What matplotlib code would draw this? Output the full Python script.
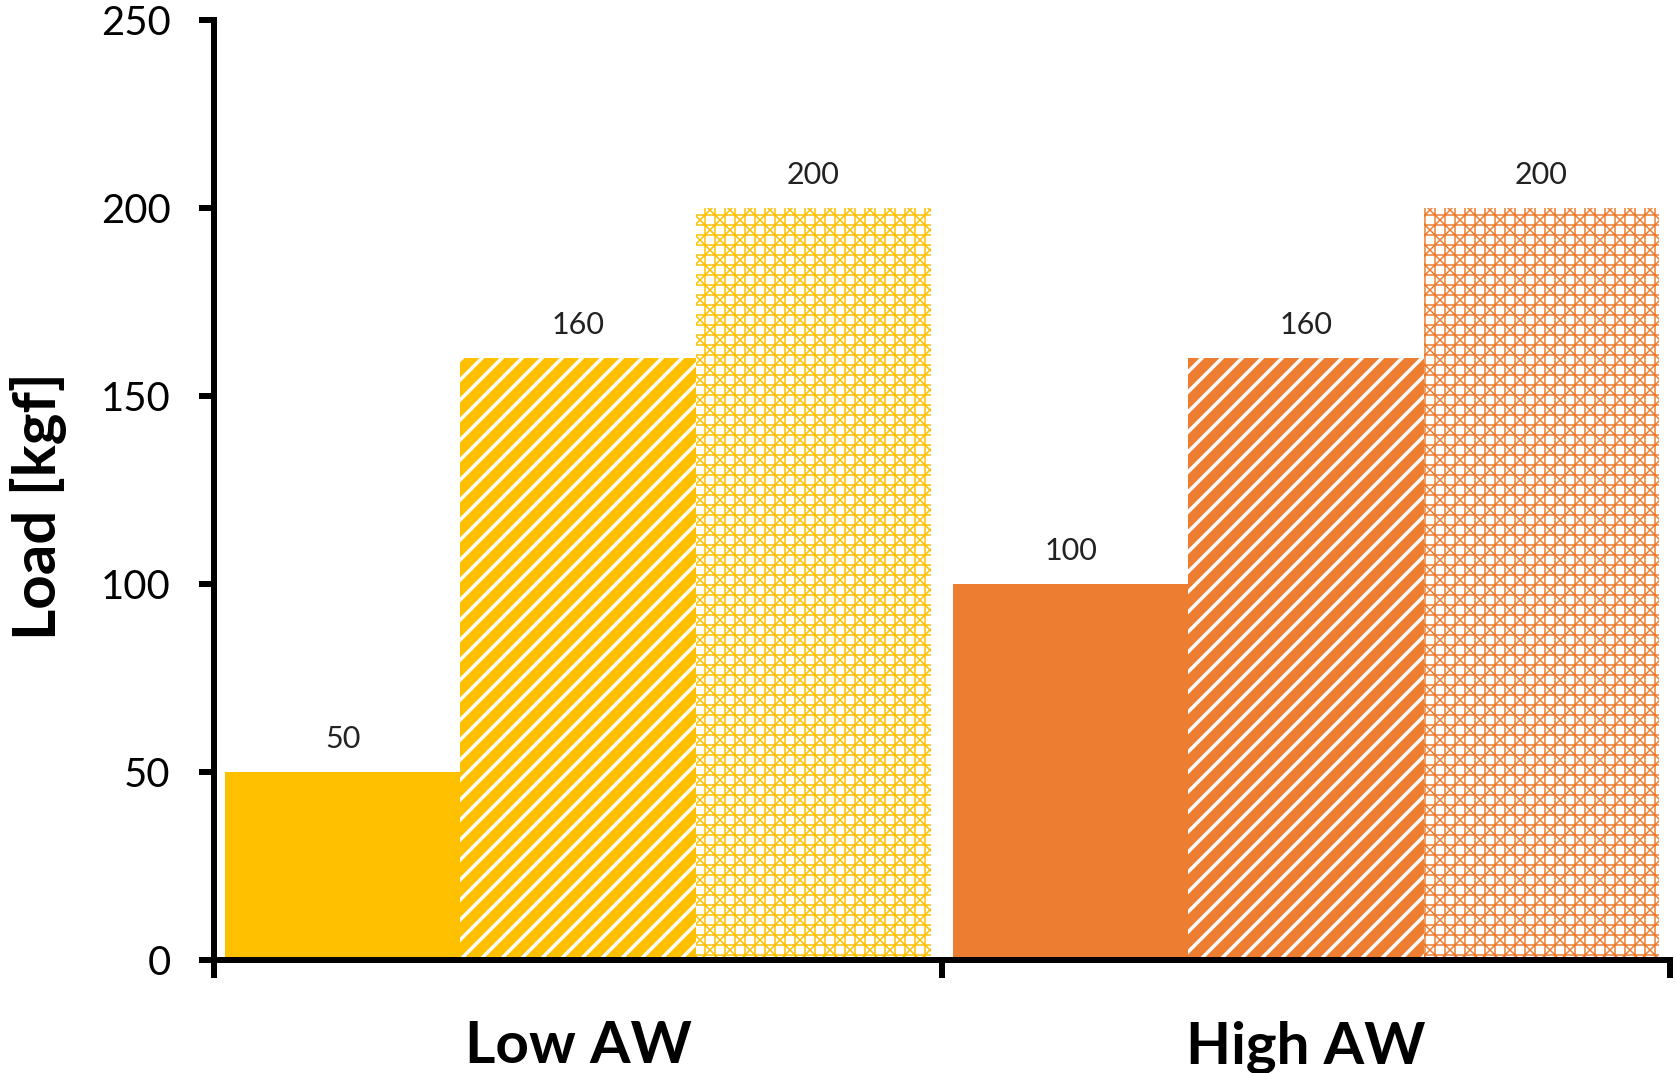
import matplotlib
matplotlib.use("Agg")
import matplotlib.pyplot as plt
from matplotlib.transforms import blended_transform_factory

# Data
categories = ["Low AW", "High AW"]
solid_vals = [50, 100]
stripe_vals = [160, 160]
grid_vals = [200, 200]
group_colors = ["#FFC000", "#ED7D31"]
y_ticks = [0, 50, 100, 150, 200, 250]

DPI = 120
W, H = 1676, 1073
plt.rcParams["font.family"] = ["Lato", "DejaVu Sans"]

fig = plt.figure(figsize=(W / DPI, H / DPI), dpi=DPI)
ax = fig.add_axes([214 / W, 1 - 960 / H, (1670 - 214) / W, 940 / H])

width = 0.323


def hatched_bar(x, h, face, edge, hatch, hlw):
    plt.rcParams["hatch.linewidth"] = hlw
    bars = ax.bar(x, h, width, facecolor=face, edgecolor=edge,
                  linewidth=0, hatch=hatch)
    for b in bars:
        if hasattr(b, "set_hatch_linewidth"):
            b.set_hatch_linewidth(hlw)
    return bars


for i, cat in enumerate(categories):
    c = group_colors[i]
    b1 = ax.bar(i - width, solid_vals[i], width, color=c, linewidth=0)
    b2 = hatched_bar(i, stripe_vals[i], c, "white", "//", 2.1)
    b3 = hatched_bar(i + width, grid_vals[i], "white", c, "++xx", 0.9)
    for bars in (b1, b2, b3):
        for b in bars:
            v = b.get_height()
            ax.annotate(f"{v:g}", (b.get_x() + b.get_width() / 2, v),
                        xytext=(0, 14.5), textcoords="offset points",
                        ha="center", va="baseline", fontsize=18.3,
                        color="#222222")

ax.set_xlim(-0.5, 1.5)
ax.set_ylim(0, 250)
ax.set_xticks([-0.5, 0.5, 1.5])
ax.set_xticklabels([])
ax.set_yticks(y_ticks)
ax.set_yticklabels([str(t) for t in y_ticks])

for side in ("top", "right"):
    ax.spines[side].set_visible(False)
for side in ("left", "bottom"):
    ax.spines[side].set_linewidth(3.6)
    ax.spines[side].set_color("black")

ax.tick_params(axis="y", direction="out", length=9, width=3.6,
               labelsize=24, pad=17, colors="black")
ax.tick_params(axis="x", direction="out", length=11, width=3.6)

# Category names below the axis
trans = blended_transform_factory(ax.transData, fig.transFigure)
for i, cat in enumerate(categories):
    ax.text(i, 1 - 1063 / H, cat, transform=trans, ha="center",
            va="baseline", fontsize=35, fontweight="bold")

fig.text(56 / W, 1 - 506 / H, "Load [kgf]", rotation=90,
         rotation_mode="anchor", ha="center", va="baseline",
         fontsize=36, fontweight="bold")

fig.savefig("out.png", dpi=DPI)
